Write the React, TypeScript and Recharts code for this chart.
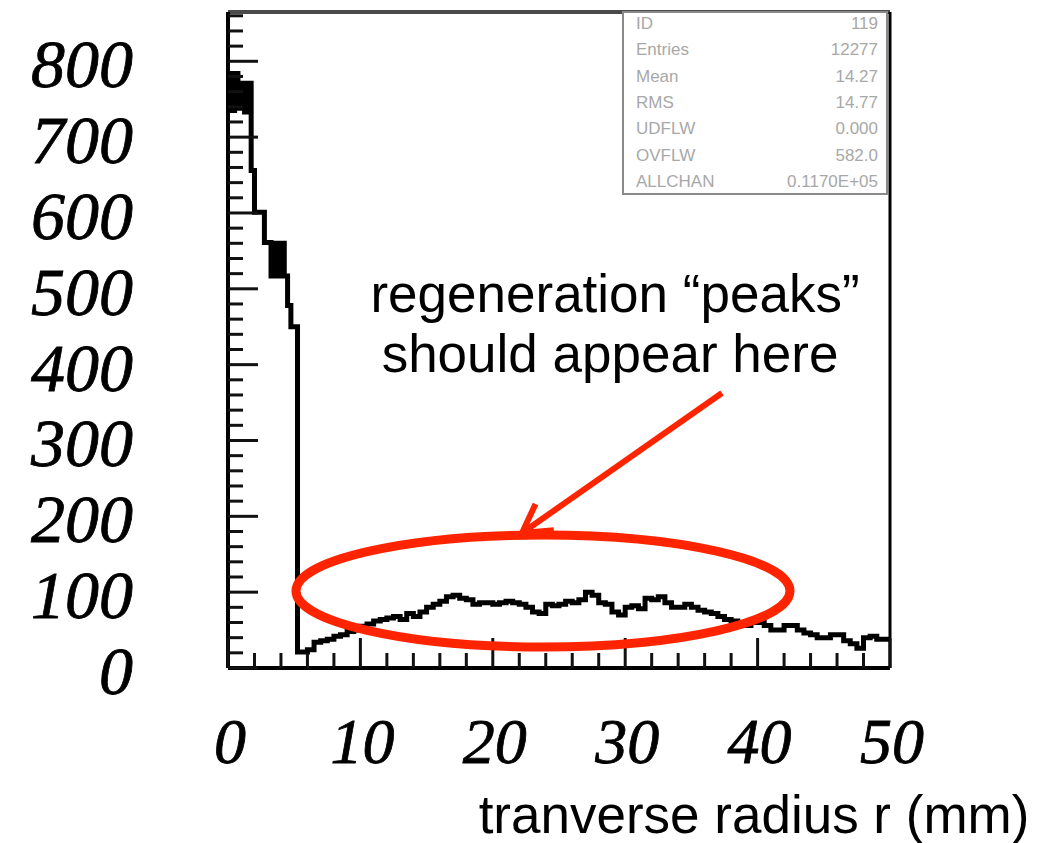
import { LineChart, Line, XAxis, YAxis, ReferenceLine } from "recharts";

// counts in 0.25 mm bins, r = 0 .. 5.5 mm
const peakCounts = [
  784, 735, 784, 738, 771, 733, 771, 656, 601, 601, 601,
  561, 561, 517, 560, 517, 560, 517, 478, 450, 450, 21,
];

// counts in 0.5 mm bins, r = 5.5 .. 50 mm
const tailCounts = [
  21, 24, 34, 36, 38, 42, 44, 48, 50, 55,
  58, 62, 64, 66, 68, 64, 72, 68, 74, 80,
  84, 88, 94, 96, 92, 90, 84, 86, 86, 84,
  86, 88, 86, 84, 80, 74, 72, 84, 82, 84,
  88, 86, 90, 100, 96, 86, 84, 74, 70, 80,
  82, 78, 92, 90, 94, 86, 80, 80, 84, 80,
  76, 74, 72, 68, 64, 62, 58, 56, 60, 60,
  56, 50, 50, 56, 56, 50, 46, 44, 40, 40,
  44, 44, 36, 32, 26, 40, 42, 38, 38,
];

const xTicks = [0, 2, 4, 6, 8, 10, 12, 14, 16, 18, 20, 22, 24, 26, 28, 30, 32, 34, 36, 38, 40, 42, 44, 46, 48, 50];
const yTicks = [
  0, 20, 40, 60, 80, 100, 120, 140, 160, 180, 200, 220, 240, 260, 280, 300, 320, 340, 360, 380,
  400, 420, 440, 460, 480, 500, 520, 540, 560, 580, 600, 620, 640, 660, 680, 700, 720, 740, 760,
  780, 800, 820, 840, 860,
];

const statLabels = ["ID", "Entries", "Mean", "RMS", "UDFLW", "OVFLW", "ALLCHAN"];
const statValues = ["119", "12277", "14.27", "14.77", "0.000", "582.0", "0.1170E+05"];

const PEAK_BIN = 0.25;
const TAIL_BIN = 0.5;
const TAIL_START = 5.5;
const R_MAX = 50;
const Y_MAX = 865;

const data = [
  ...peakCounts.map((n, i) => ({ r: i * PEAK_BIN, n })),
  ...tailCounts.map((n, i) => ({ r: TAIL_START + i * TAIL_BIN, n })),
  { r: R_MAX, n: tailCounts[tailCounts.length - 1] },
];

const serif = "'Liberation Serif', 'Times New Roman', serif";
const sans = "'Liberation Sans', Arial, sans-serif";

function YTick(props: any) {
  const { x, y, payload } = props;
  const major = payload.value % 100 === 0;
  return (
    <g>
      <line x1={x} x2={x + (major ? 30 : 15)} y1={y} y2={y} stroke="#111" strokeWidth={3} />
      {major && (
        <text
          x={x - 95}
          y={y + 26}
          textAnchor="end"
          fontFamily={serif}
          fontStyle="italic"
          fontSize={68}
          fill="#000"
          stroke="#000"
          strokeWidth={0.8}
        >
          {payload.value}
        </text>
      )}
    </g>
  );
}

function XTick(props: any) {
  const { x, y, payload } = props;
  const major = payload.value % 10 === 0;
  return (
    <g>
      <line x1={x} x2={x} y1={y} y2={y - (major ? 30 : 15)} stroke="#111" strokeWidth={3} />
      {major && (
        <text
          x={x + 2}
          y={y + 95}
          textAnchor="middle"
          fontFamily={serif}
          fontStyle="italic"
          fontSize={64}
          fill="#000"
          stroke="#000"
          strokeWidth={0.8}
        >
          {payload.value}
        </text>
      )}
    </g>
  );
}

function Overlay() {
  // arrow geometry (annotation, page pixels)
  const tip = { x: 522, y: 533 };
  const tail = { x: 722, y: 393 };
  const ang = Math.atan2(tail.y - tip.y, tail.x - tip.x);
  const head = 32;
  const a1 = ang + Math.PI / 6;
  const a2 = ang - Math.PI / 6;
  return (
    <svg width={1053} height={843} style={{ position: "absolute", left: 0, top: 0, pointerEvents: "none" }}>
      <rect x={623} y={12} width={264} height={182} fill="#fff" stroke="#8a8a8a" strokeWidth={2} />
      {statLabels.map((s, i) => (
        <text key={s} x={636} y={29 + i * 26.3} fontFamily={sans} fontSize={17} fill="#a8a8a8">
          {s}
        </text>
      ))}
      {statValues.map((s, i) => (
        <text key={i} x={878} y={29 + i * 26.3} textAnchor="end" fontFamily={sans} fontSize={17} fill="#a8a8a8">
          {s}
        </text>
      ))}
      <ellipse cx={543} cy={591} rx={247} ry={56} fill="none" stroke="#ff2400" strokeWidth={9} />
      <line x1={tail.x} y1={tail.y} x2={tip.x} y2={tip.y} stroke="#ff2400" strokeWidth={6} />
      <polyline
        points={`${tip.x + head * Math.cos(a1)},${tip.y + head * Math.sin(a1)} ${tip.x},${tip.y} ${tip.x + head * Math.cos(a2)},${tip.y + head * Math.sin(a2)}`}
        fill="none"
        stroke="#ff2400"
        strokeWidth={6}
        strokeLinejoin="miter"
      />
      <text x={615} y={312} textAnchor="middle" fontFamily={sans} fontSize={53} fill="#000">
        regeneration “peaks”
      </text>
      <text x={610} y={372} textAnchor="middle" fontFamily={sans} fontSize={53} fill="#000">
        should appear here
      </text>
      <text x={754} y={833} textAnchor="middle" fontFamily={sans} fontSize={53} fill="#000">
        tranverse radius r (mm)
      </text>
    </svg>
  );
}

export default function App() {
  return (
    <div style={{ position: "absolute", left: 0, top: 0, width: 1053, height: 843, background: "#fff" }}>
      <LineChart width={1053} height={843} data={data} margin={{ top: 12, right: 163, left: 0, bottom: 0 }}>
        <XAxis
          dataKey="r"
          type="number"
          domain={[0, R_MAX]}
          ticks={xTicks}
          interval={0}
          height={175}
          tickLine={false}
          tickSize={0}
          tickMargin={0}
          axisLine={{ stroke: "#000", strokeWidth: 4 }}
          tick={<XTick />}
        />
        <YAxis
          type="number"
          domain={[0, Y_MAX]}
          ticks={yTicks}
          interval={0}
          width={228}
          tickLine={false}
          tickSize={0}
          tickMargin={0}
          axisLine={{ stroke: "#000", strokeWidth: 4 }}
          tick={<YTick />}
        />
        <ReferenceLine y={Y_MAX} stroke="#4a4a4a" strokeWidth={4} />
        <ReferenceLine x={R_MAX} stroke="#000" strokeWidth={3} />
        <Line
          type="stepAfter"
          dataKey="n"
          stroke="#000"
          strokeWidth={5}
          dot={false}
          activeDot={false}
          isAnimationActive={false}
        />
      </LineChart>
      <Overlay />
    </div>
  );
}
